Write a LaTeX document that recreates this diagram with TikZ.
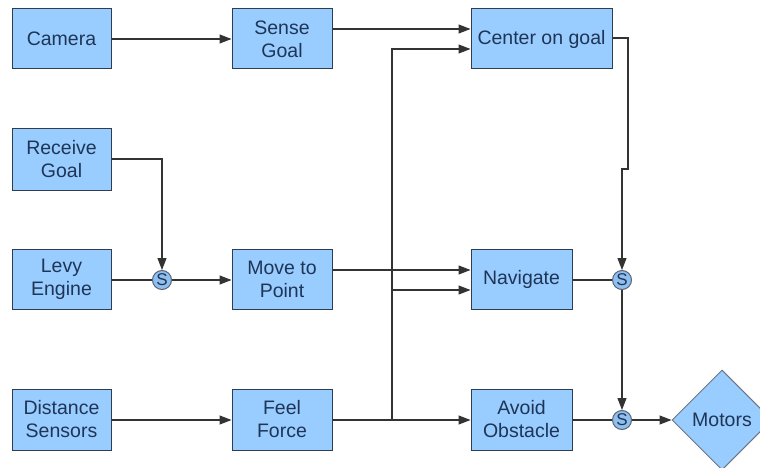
\documentclass[tikz,border=0pt]{standalone}
\usepackage{fontspec}
\setmainfont{Liberation Sans}
\usetikzlibrary{shapes.geometric,arrows.meta}
\definecolor{boxfill}{HTML}{99CCFF}
\definecolor{boxline}{HTML}{2E3D4F}
\definecolor{txt}{HTML}{1E3556}
\definecolor{sfill}{HTML}{8FBFEF}
\definecolor{wire}{HTML}{333333}
\begin{document}
\begin{tikzpicture}[x=1pt,y=-1pt,
  blk/.style={draw=boxline,fill=boxfill,line width=1pt,minimum height=60pt,
    inner sep=0pt,align=center,text=txt,font=\fontsize{19.5}{23}\selectfont},
  sumj/.style={circle,draw=boxline!80,fill=sfill,line width=1pt,minimum size=19pt,
    inner sep=0pt,text=txt,font=\fontsize{17}{17}\selectfont},
  wr/.style={draw=wire,line width=1.1pt},
  ar/.style={wr,-{Triangle[length=12pt,width=9pt]}}]
\useasboundingbox (0,0) rectangle (760,468);
\clip (0,0) rectangle (760,468);
\fill[white] (0,0) rectangle (760,468);
% blocks
\node[blk,minimum width=99pt] (cam) at (61.5,39) {Camera};
\node[blk,minimum width=100pt] (sense) at (282,39) {Sense\\Goal};
\node[blk,minimum width=141pt] (center) at (541.5,39) {Center on goal};
\node[blk,minimum width=99pt,minimum height=61pt] (recv) at (61.5,159.5) {Receive\\Goal};
\node[blk,minimum width=99pt] (levy) at (61.5,279) {Levy\\Engine};
\node[blk,minimum width=100pt] (move) at (282,279) {Move to\\Point};
\node[blk,minimum width=101pt] (nav) at (521.5,279) {Navigate};
\node[blk,minimum width=99pt,minimum height=61pt] (dist) at (61.5,419.5) {Distance\\Sensors};
\node[blk,minimum width=100pt,minimum height=61pt] (feel) at (282,419.5) {Feel\\Force};
\node[blk,minimum width=101pt,minimum height=61pt] (avoid) at (521.5,419.5) {Avoid\\Obstacle};
\node[diamond,draw=boxline!70,fill=boxfill,line width=1pt,minimum width=100pt,minimum height=100pt,
  inner sep=0pt,aspect=1,text=txt,font=\fontsize{19.5}{23}\selectfont] (mot) at (722,420) {Motors};
% summing junctions
\node[sumj] (s1) at (162,280) {S};
\node[sumj] (s2) at (622,280) {S};
\node[sumj] (s3) at (622,420) {S};
% helper coordinates
\coordinate (jf) at (392,420);
\coordinate (jn) at (392,290);
\coordinate (jc) at (392,49);
% connectors
\draw[ar] (cam.east) -- (sense.west);
\draw[ar] (sense.east |- 0,29) -- (center.west |- 0,29);
\draw[ar] (recv.east |- 0,159) -| (s1.north);
\draw[wr] (levy.east |- s1) -- (s1.west);
\draw[ar] (s1.east) -- (move.west |- s1);
\draw[ar] (move.east |- 0,270) -- (nav.west |- 0,270);
\draw[ar] (dist.east |- jf) -- (feel.west |- jf);
\draw[ar] (feel.east |- jf) -- (avoid.west |- jf);
\draw[ar] (jf) -- (jc) -- (center.west |- jc);
\draw[ar] (jn) -- (nav.west |- jn);
\draw[ar] (center.east |- 0,38) -- (628,38) -- (628,169) -- (622,169) -- (s2.north);
\draw[wr] (nav.east |- s2) -- (s2.west);
\draw[ar] (s2.south) -- (s3.north);
\draw[wr] (avoid.east |- s3) -- (s3.west);
\draw[ar] (s3.east) -- (mot.west);
\end{tikzpicture}
\end{document}
